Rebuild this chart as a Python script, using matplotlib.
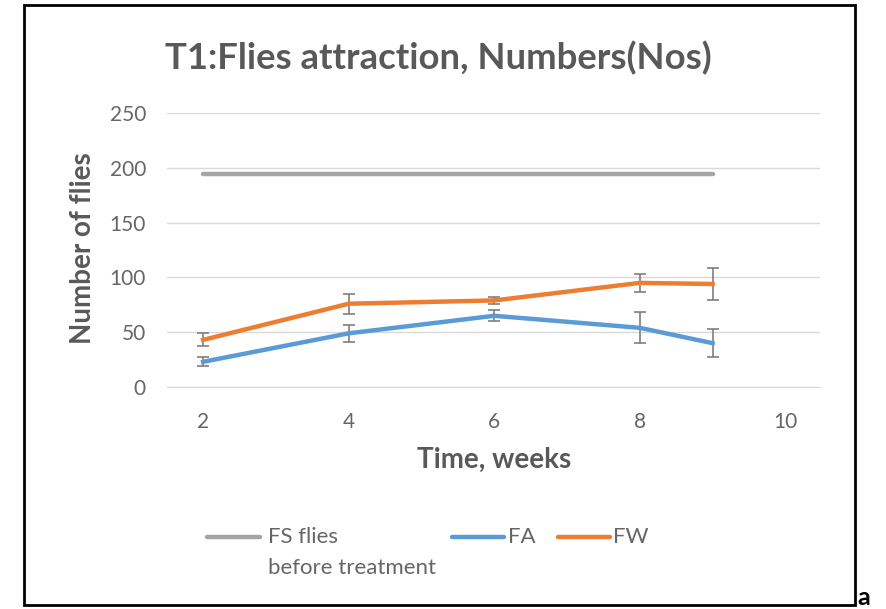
import matplotlib.pyplot as plt
from matplotlib.patches import Rectangle
from matplotlib.lines import Line2D

plt.rcParams['font.family'] = ['Lato', 'DejaVu Sans']

# weeks after treatment
weeks = [2, 4, 6, 8, 9]
fs_before = [194, 194, 194, 194, 194]
fa = [23, 49, 65, 54, 40]
fa_err = [4, 8, 5, 14, 13]
fw = [43, 76, 79, 95, 94]
fw_err = [6, 9, 3, 8, 15]

grey_txt = '#595959'
W, H = 887, 609

fig = plt.figure(figsize=(W / 100, H / 100), dpi=100)
ax = fig.add_axes([0.188, 0.3645, 0.736, 0.4499])

ax.plot(weeks, fs_before, color='#a5a5a5', lw=3.2, solid_capstyle='round')
ax.errorbar(weeks, fa, yerr=fa_err, color='#5b9bd5', lw=3.2, ecolor='#7f7f7f',
            elinewidth=1.2, capsize=4, capthick=1.2)
ax.errorbar(weeks, fw, yerr=fw_err, color='#ed7d31', lw=3.2, ecolor='#7f7f7f',
            elinewidth=1.2, capsize=4, capthick=1.2)

ax.set_xlim(1.5, 10.47)
ax.set_ylim(0, 250)
ax.set_xticks([2, 4, 6, 8, 10])
ax.set_yticks(range(0, 251, 50))
ax.grid(axis='y', color='#d9d9d9', lw=1)
ax.set_axisbelow(True)
for s in ['top', 'right', 'left']:
    ax.spines[s].set_visible(False)
ax.spines['bottom'].set_color('#d9d9d9')
ax.tick_params(length=0, labelsize=15, labelcolor='#666666')
ax.tick_params(axis='y', pad=15)
ax.tick_params(axis='x', pad=18)

fig.text(494 / W, 1 - 460 / H, 'Time, weeks', ha='center', va='center',
         fontsize=20, fontweight='bold', color=grey_txt)
fig.text(83 / W, 1 - 248 / H, 'Number of flies', ha='center', va='center', rotation=90,
         fontsize=20, fontweight='bold', color=grey_txt)
fig.text(438 / W, 1 - 58 / H, 'T1:Flies attraction, Numbers(Nos)', ha='center', va='center',
         fontsize=26.3, fontweight='bold', color=grey_txt)

# legend drawn by hand under the axes
handles = [
    ('#a5a5a5', 207, 260, 'FS flies\nbefore treatment', 268),
    ('#5b9bd5', 452, 504, 'FA', 508),
    ('#ed7d31', 558, 610, 'FW', 613),
]
y_leg = 1 - 537 / H
for col, x0, x1, lab, xt in handles:
    fig.add_artist(Line2D([x0 / W, x1 / W], [y_leg, y_leg], color=col, lw=3.2,
                          solid_capstyle='round'))
    fig.text(xt / W, y_leg + 0.016, lab, ha='left', va='top', fontsize=16,
             color='#666666', linespacing=1.68)

# frame around the chart and panel letter
fig.add_artist(Rectangle((24 / W, 1 - 605 / H), (855 - 24) / W, 600 / H,
                         fill=False, ec='black', lw=2, transform=fig.transFigure))
fig.text(857 / W, 1 - 609 / H, 'a', ha='left', va='bottom', fontsize=18,
         fontweight='bold', color='black')

fig.savefig('out.png', dpi=100)
